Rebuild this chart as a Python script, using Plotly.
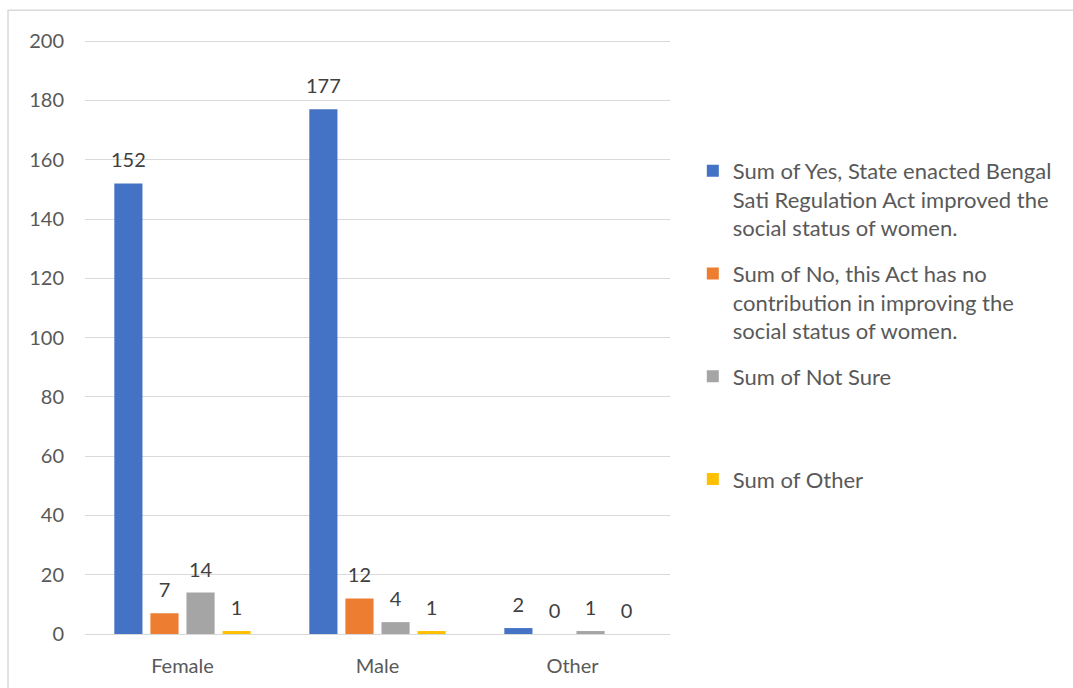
import plotly.graph_objects as go

categories = ["Female", "Male", "Other"]
series_names = [
    "Sum of Yes, State enacted Bengal<br>Sati Regulation Act improved the<br>social status of women.",
    "Sum of No, this Act has no<br>contribution in improving the<br>social status of women.",
    "Sum of Not Sure<br> <br> ",
    "Sum of Other<br> <br> ",
]
yes_vals = [152, 177, 2]
no_vals = [7, 12, 0]
notsure_vals = [14, 4, 1]
other_vals = [1, 1, 0]
colors = ["#4472C4", "#ED7D31", "#A5A5A5", "#FFC000"]
y_ticks = [0, 20, 40, 60, 80, 100, 120, 140, 160, 180, 200]

FONT = "Lato"
fig = go.Figure()
all_vals = [yes_vals, no_vals, notsure_vals, other_vals]
for i, (name, vals) in enumerate(zip(series_names, all_vals)):
    fig.add_trace(go.Bar(
        x=categories, y=vals, name=name, marker_color=colors[i],
        marker_line_width=0, legendgroup=f"g{i}", hoverinfo="y",
    ))
# data labels, grouped like the bars
for i, vals in enumerate(all_vals):
    fig.add_trace(go.Scatter(
        x=categories, y=vals, mode="markers+text",
        marker=dict(size=16, opacity=0),
        text=[str(v) for v in vals], textposition="top center",
        textfont=dict(family=FONT, size=20, color="#404040"),
        cliponaxis=False, showlegend=False, hoverinfo="skip",
    ))

fig.update_layout(
    width=1073, height=688,
    margin=dict(l=85, r=403, t=40, b=54, autoexpand=False),
    paper_bgcolor="white", plot_bgcolor="white",
    barmode="group", bargap=0.26, bargroupgap=0.22,
    scattermode="group", scattergap=0.26,
    font=dict(family=FONT, color="#595959"),
    legend=dict(
        x=1.039, y=0.815, xanchor="left", yanchor="top",
        font=dict(family=FONT, size=22, color="#595959"),
        valign="top", tracegroupgap=14, traceorder="grouped",
    ),
    shapes=[dict(type="rect", xref="paper", yref="paper",
                 x0=-0.1316, x1=1.9, y0=-0.3, y1=1.05,
                 line=dict(color="#D9D9D9", width=1.5), layer="below")],
)
fig.update_yaxes(range=[0, 200.4], tickvals=y_ticks, showgrid=True, gridcolor="#D9D9D9",
                 gridwidth=1, zeroline=False, showline=False, automargin=False,
                 tickfont=dict(family=FONT, size=20, color="#595959"),
                 ticklabelstandoff=20)
fig.update_xaxes(showline=True, linecolor="#D9D9D9", linewidth=1, showgrid=False,
                 automargin=False,
                 tickfont=dict(family=FONT, size=20, color="#595959"),
                 ticklabelstandoff=14)

fig.write_html("out.html")
